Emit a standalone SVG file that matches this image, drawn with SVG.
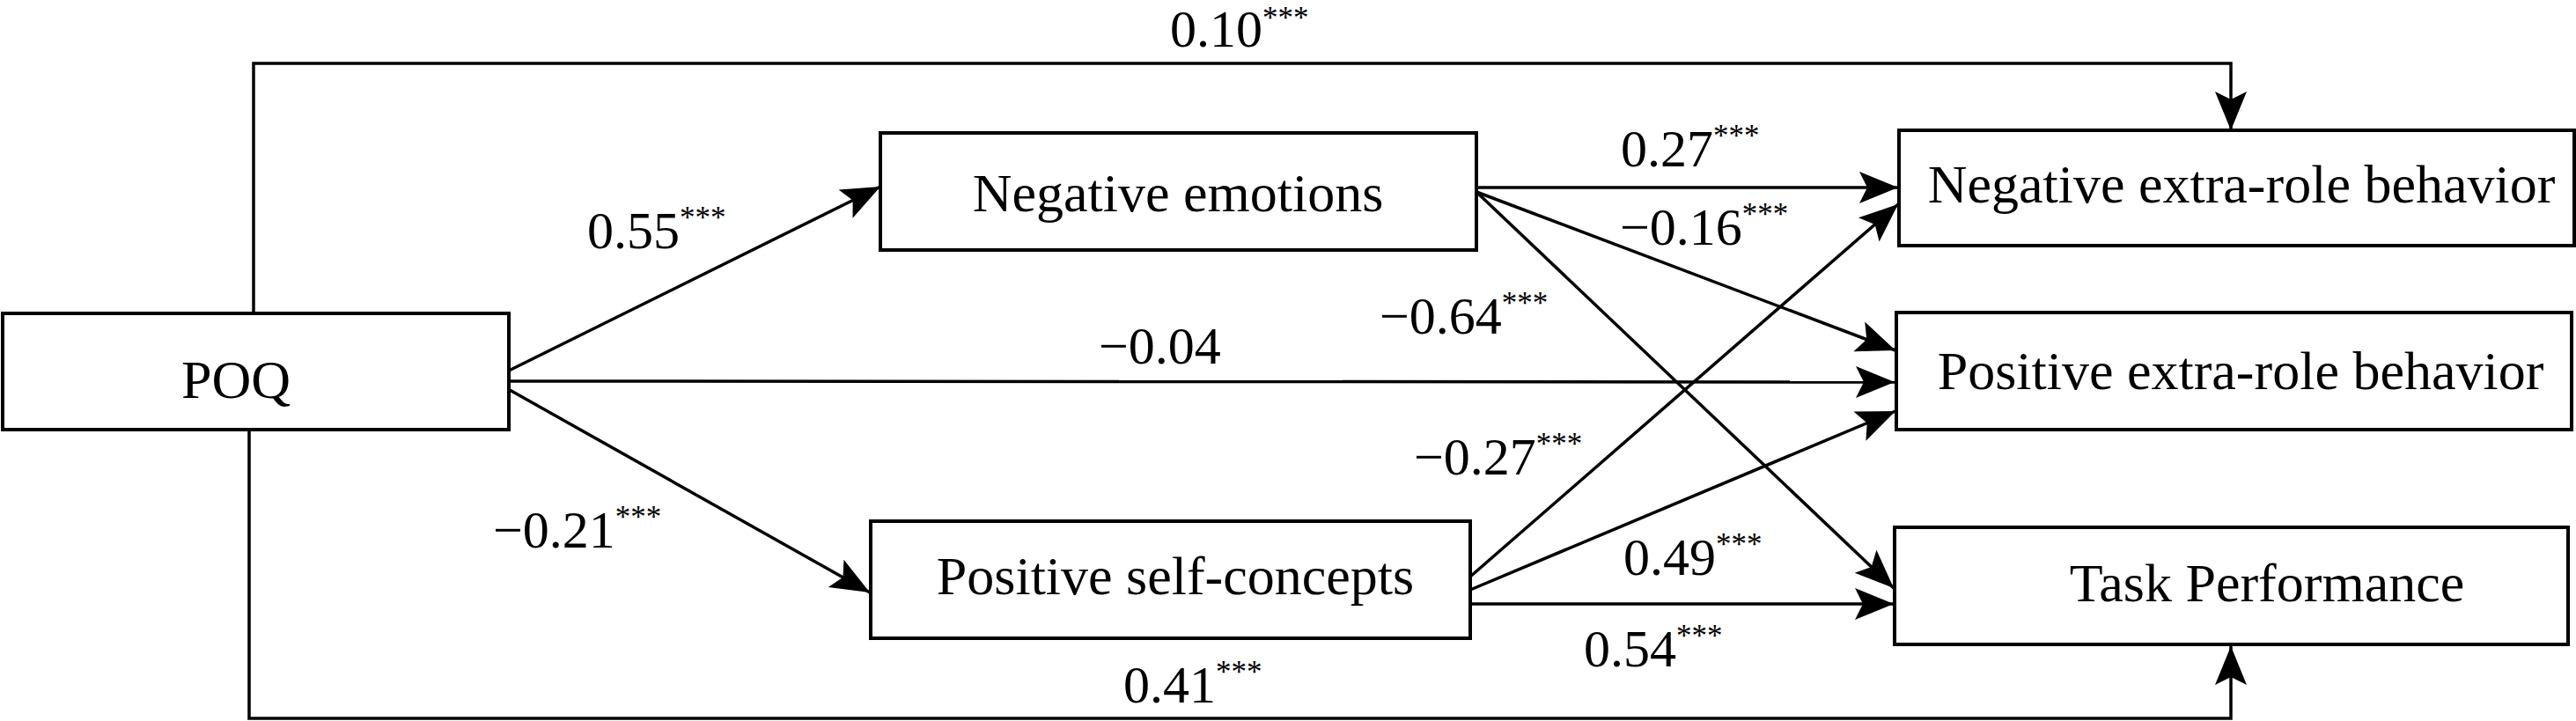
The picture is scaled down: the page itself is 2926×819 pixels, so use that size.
<svg xmlns="http://www.w3.org/2000/svg" width="2926" height="819" viewBox="0 0 2926 819">
<style>
.box{fill:#fff;stroke:#000;stroke-width:4}
.node{font-family:"Liberation Serif","Times New Roman",serif;font-size:62px;fill:#000;text-anchor:middle}
.lbl{font-family:"Liberation Serif","Times New Roman",serif;font-size:60px;fill:#000}
.sup{font-size:35px}
.edge{fill:none;stroke:#000;stroke-width:3.5;marker-end:url(#arr)}
</style>
<defs>
<marker id="arr" markerUnits="userSpaceOnUse" viewBox="-46 -20 48 40" refX="0" refY="0" markerWidth="48" markerHeight="40" orient="auto">
<path d="M0,0 L-44,-18 L-35,0 L-44,18 Z" fill="#000"/>
</marker>
</defs>
<rect width="2926" height="819" fill="#fff"/>
<g id="connectors">
<path class="edge" d="M288,356 V72 H2534 V148"/>
<path class="edge" d="M283,488 V816 H2534 V734"/>
<path class="edge" d="M578,421 L1000,212"/>
<path class="edge" d="M579,443 L988,673"/>
<path class="edge" d="M578,433 L2152,434"/>
<path class="edge" d="M1677,213 L2156,213"/>
<path class="edge" d="M1677,218 L2153,398"/>
<path class="edge" d="M1677,218 L2151,668"/>
<path class="edge" d="M1670,655 L2156,232"/>
<path class="edge" d="M1670,670 L2153,467"/>
<path class="edge" d="M1670,686 L2151,686"/>
</g>
<g id="labels">
<text class="lbl" x="1329" y="53">0.10<tspan class="sup" dy="-21">***</tspan></text>
<text class="lbl" x="667" y="282">0.55<tspan class="sup" dy="-23">***</tspan></text>
<text class="lbl" x="1841" y="189">0.27<tspan class="sup" dy="-23">***</tspan></text>
<text class="lbl" x="1840" y="278">−0.16<tspan class="sup" dy="-23">***</tspan></text>
<text class="lbl" x="1567" y="379">−0.64<tspan class="sup" dy="-23">***</tspan></text>
<text class="lbl" x="1248" y="413">−0.04</text>
<text class="lbl" x="560" y="622">−0.21<tspan class="sup" dy="-23">***</tspan></text>
<text class="lbl" x="1606" y="539">−0.27<tspan class="sup" dy="-23">***</tspan></text>
<text class="lbl" x="1844" y="653">0.49<tspan class="sup" dy="-23">***</tspan></text>
<text class="lbl" x="1799" y="757">0.54<tspan class="sup" dy="-23">***</tspan></text>
<text class="lbl" x="1276" y="798">0.41<tspan class="sup" dy="-23">***</tspan></text>
</g>
<g id="node-poq">
<rect class="box" x="3" y="356" width="575" height="132"/>
<text class="node" x="268" y="452">POQ</text>
</g>
<g id="node-negative-emotions">
<rect class="box" x="1000" y="151" width="677" height="133"/>
<text class="node" x="1338" y="240">Negative emotions</text>
</g>
<g id="node-positive-self-concepts">
<rect class="box" x="989" y="592" width="681" height="133"/>
<text class="node" x="1335" y="675">Positive self-concepts</text>
</g>
<g id="node-negative-extra-role">
<rect class="box" x="2157" y="148" width="767" height="131"/>
<text class="node" x="2546" y="230">Negative extra-role behavior</text>
</g>
<g id="node-positive-extra-role">
<rect class="box" x="2154" y="355" width="767" height="133"/>
<text class="node" x="2545" y="442">Positive extra-role behavior</text>
</g>
<g id="node-task-performance">
<rect class="box" x="2152" y="599" width="765" height="133"/>
<text class="node" x="2575" y="683">Task Performance</text>
</g>
</svg>
